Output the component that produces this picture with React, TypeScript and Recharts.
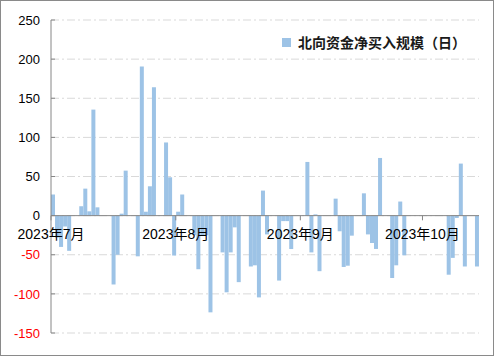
import React from 'react';
import { BarChart, Bar, XAxis, YAxis, CartesianGrid, ReferenceLine, Legend } from 'recharts';

// Trading days (northbound connect) and daily net buy (亿元)
const tradeDates = [
  '2023-07-03', '2023-07-04', '2023-07-05', '2023-07-06', '2023-07-07',
  '2023-07-10', '2023-07-11', '2023-07-12', '2023-07-13', '2023-07-14',
  '2023-07-18', '2023-07-19', '2023-07-20', '2023-07-21',
  '2023-07-24', '2023-07-25', '2023-07-26', '2023-07-27', '2023-07-28',
  '2023-07-31', '2023-08-01', '2023-08-02', '2023-08-03', '2023-08-04',
  '2023-08-07', '2023-08-08', '2023-08-09', '2023-08-10', '2023-08-11',
  '2023-08-14', '2023-08-15', '2023-08-16', '2023-08-17', '2023-08-18',
  '2023-08-21', '2023-08-22', '2023-08-23', '2023-08-24', '2023-08-25',
  '2023-08-28', '2023-08-29', '2023-08-30', '2023-08-31',
  '2023-09-04', '2023-09-05', '2023-09-06', '2023-09-07',
  '2023-09-11', '2023-09-12', '2023-09-13', '2023-09-14', '2023-09-15',
  '2023-09-18', '2023-09-19', '2023-09-20', '2023-09-21', '2023-09-22',
  '2023-09-25', '2023-09-26', '2023-09-27', '2023-09-28',
  '2023-10-09', '2023-10-10', '2023-10-11', '2023-10-12', '2023-10-13',
  '2023-10-16',
];

const netBuy = [
  27, -28, -40, -14, -45,
  12, 34.5, 5.5, 135.5, 10.6,
  -88, -50, 2.5, 57.5,
  -52, 190.5, 5, 37.5, 164,
  93.5, 49, -51, 5, 27,
  -25, -68.5, -25, -25, -123.6,
  -47, -98, -47, -15, -85,
  -65, -63.5, -104.5, 32, -24,
  -83, -7, -7, -42.7,
  68.6, -47, 1.6, -71,
  21.7, -20, -65.6, -64, -25.6,
  28.5, -24, -35, -42.6, 73.7,
  -79.7, -63.5, 18, -50.7,
  -75.5, -54, -3, 66.5, -65,
  -65,
];

const yTicks = [-150, -100, -50, 0, 50, 100, 150, 200, 250];
const monthLabels = ['2023年7月', '2023年8月', '2023年9月', '2023年10月'];
const monthTickDays = [0, 30.9, 61.75, 92];
const seriesName = '北向资金净买入规模（日）';

const DAY = 86400000;
const origin = Date.parse('2023-07-03');
const data = tradeDates.map((d, i) => ({
  day: (Date.parse(d) - origin) / DAY + 0.5,
  value: netBuy[i],
}));

const BAR_COLOR = '#9DC3E6';
const AXIS_COLOR = '#868686';
const LATIN_FONT = '"Liberation Sans", Arial, "Noto Sans CJK SC", sans-serif';

const YTick = (props: any) => {
  const { x, y, payload } = props;
  return (
    <text
      x={x}
      y={y}
      dy="0.36em"
      textAnchor="end"
      fontSize={13}
      fontFamily={LATIN_FONT}
      fill={payload.value < 0 ? '#FF0000' : '#000000'}
    >
      {payload.value}
    </text>
  );
};

const LegendContent = () => (
  <div style={{ display: 'flex', alignItems: 'center', whiteSpace: 'nowrap' }}>
    <span style={{ display: 'inline-block', width: 9, height: 9, background: BAR_COLOR, marginRight: 7 }} />
    <span
      style={{
        fontFamily: '"Noto Sans CJK SC", sans-serif',
        fontWeight: 700,
        fontSize: 14,
        lineHeight: '16px',
        color: '#1a1a1a',
      }}
    >
      {seriesName}
    </span>
  </div>
);

export default function App() {
  return (
    <div
      style={{
        position: 'fixed',
        left: 0,
        top: 0,
        width: 494,
        height: 356,
        boxSizing: 'border-box',
        border: '1px solid #8a8a8a',
        background: '#ffffff',
      }}
    >
      <BarChart
        width={492}
        height={354}
        data={data}
        margin={{ top: 19, right: 14, bottom: 22, left: 0 }}
      >
        <CartesianGrid vertical={false} stroke="#d9d9d9" strokeDasharray="8 3 2 3" />
        <XAxis dataKey="day" type="number" domain={[0, 106]} hide allowDataOverflow />
        <YAxis
          domain={[-150, 250]}
          ticks={yTicks}
          width={50}
          interval={0}
          axisLine={{ stroke: AXIS_COLOR }}
          tickLine={{ stroke: AXIS_COLOR }}
          tickSize={-4}
          tickMargin={15}
          tick={<YTick />}
          allowDataOverflow
        />
        <Legend
          layout="horizontal"
          verticalAlign="middle"
          align="center"
          content={<LegendContent />}
          wrapperStyle={{ left: 281, top: 33, width: 'auto', height: 'auto' }}
        />
        <Bar dataKey="value" name={seriesName} fill={BAR_COLOR} barSize={4} isAnimationActive={false} />
        <ReferenceLine y={0} stroke={AXIS_COLOR} />
        {monthTickDays.map((d, i) => (
          <ReferenceLine
            key={monthLabels[i]}
            segment={[{ x: d, y: 0 }, { x: d, y: -6 }]}
            stroke={AXIS_COLOR}
            label={{
              value: monthLabels[i],
              position: 'bottom',
              offset: 9,
              fill: '#000000',
              fontSize: 14,
              fontFamily: LATIN_FONT,
            }}
          />
        ))}
      </BarChart>
    </div>
  );
}
